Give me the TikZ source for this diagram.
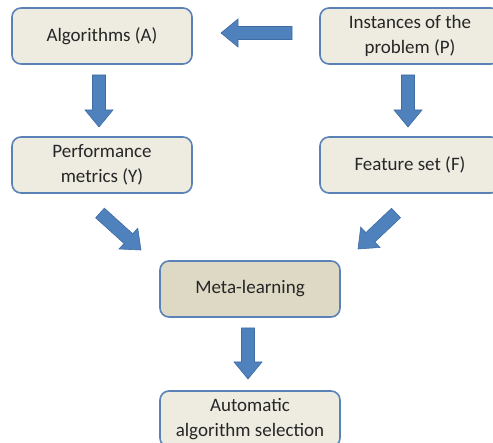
\documentclass[tikz,border=0pt]{standalone}
\usepackage{fontspec}
\setmainfont{Carlito}
\usetikzlibrary{calc}

\definecolor{boxfill}{HTML}{EEECE1}
\definecolor{metafill}{HTML}{DDD9C4}
\definecolor{boxline}{HTML}{5A82B6}
\definecolor{arrowfill}{HTML}{4F81BD}
\definecolor{arrowline}{HTML}{3F6CA3}
\definecolor{textcol}{HTML}{262626}

% block arrow from tail #1 to tip #2
\newcommand\blockarrow[2]{%
  \filldraw[arrowbody]
    ($(#1)!6.5pt!90:(#2)$) --
    ($($(#2)!17pt!(#1)$)!6.5pt!-90:(#1)$) --
    ($($(#2)!17pt!(#1)$)!14pt!-90:(#1)$) --
    (#2) --
    ($($(#2)!17pt!(#1)$)!14pt!90:(#1)$) --
    ($($(#2)!17pt!(#1)$)!6.5pt!90:(#1)$) --
    ($(#1)!6.5pt!-90:(#2)$) -- cycle;}

\begin{document}
\begin{tikzpicture}[x=1pt,y=-1pt,
  stepbox/.style={draw=boxline, fill=boxfill, line width=1.6pt,
    rounded corners=9pt, minimum width=180pt, minimum height=56pt,
    align=center, text=textcol, inner sep=0pt,
    font=\fontsize{19}{24.5}\selectfont},
  metabox/.style={stepbox, fill=metafill},
  arrowbody/.style={fill=arrowfill, draw=arrowline, line width=0.6pt,
    line join=miter}]
  \useasboundingbox (0,0) rectangle (493,443);

  \node[stepbox] (alg)  at (102,36)  {Algorithms (A)};
  \node[stepbox] (inst) at (410,36)  {Instances of the\\problem (P)};
  \node[stepbox] (perf) at (102,165) {Performance\\metrics (Y)};
  \node[stepbox] (feat) at (410,165) {Feature set (F)};
  \node[metabox] (meta) at (250,289) {Meta-learning};
  \node[stepbox] (auto) at (250,419) {Automatic\\algorithm selection};

  % arrow ends
  \coordinate (pa-t) at (292,33);  \coordinate (pa-h) at (221,33);
  \coordinate (ay-t) at (99,75);   \coordinate (ay-h) at (99,127);
  \coordinate (pf-t) at (408,75);  \coordinate (pf-h) at (408,127);
  \coordinate (ym-t) at (100,213); \coordinate (ym-h) at (141,250);
  \coordinate (fm-t) at (396,213); \coordinate (fm-h) at (358,249);
  \coordinate (ma-t) at (248,328); \coordinate (ma-h) at (248,379);

  \blockarrow{pa-t}{pa-h}
  \blockarrow{ay-t}{ay-h}
  \blockarrow{pf-t}{pf-h}
  \blockarrow{ym-t}{ym-h}
  \blockarrow{fm-t}{fm-h}
  \blockarrow{ma-t}{ma-h}
\end{tikzpicture}
\end{document}
